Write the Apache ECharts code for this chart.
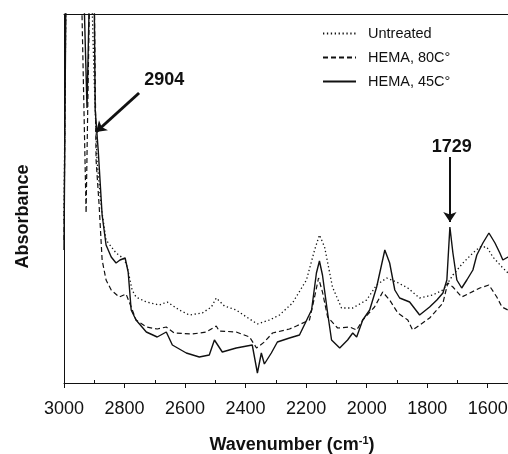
<!DOCTYPE html>
<html>
<head>
<meta charset="utf-8">
<script src="https://cdn.jsdelivr.net/npm/echarts@6/dist/echarts.min.js"></script>
<style>
  html, body { margin: 0; padding: 0; background: #fff; }
  #chart { width: 508px; height: 454px; }
</style>
</head>
<body>
<div id="chart"></div>
<script>
// wavenumbers (cm-1) and absorbance (arbitrary units, 0 = bottom of frame)
// values above the frame top (369) are clipped off like the original
var wnUntreated = [3000, 2993, 2911, 2901, 2891, 2877, 2861, 2828, 2801, 2791, 2775, 2762, 2728, 2685, 2659, 2619, 2586, 2543, 2513, 2497, 2470, 2431, 2397, 2361, 2321, 2288, 2245, 2199, 2172, 2156, 2139, 2113, 2083, 2046, 2000, 1967, 1934, 1901, 1864, 1825, 1782, 1748, 1732, 1715, 1682, 1649, 1626, 1603, 1583, 1553, 1533, 1520];
var absUntreated = [163, 420, 420, 310, 223, 176, 143, 130, 124, 116, 93, 86, 81, 78, 81, 73, 68, 70, 76, 85, 77, 73, 66, 59, 63, 68, 80, 103, 133, 148, 136, 96, 75, 75, 83, 98, 105, 101, 95, 85, 88, 93, 100, 108, 120, 130, 136, 136, 126, 116, 110, 106];

var wnHema80 = [3000, 2993, 2944, 2927, 2914, 2901, 2894, 2884, 2874, 2861, 2844, 2818, 2795, 2778, 2762, 2728, 2692, 2662, 2636, 2576, 2530, 2497, 2487, 2431, 2387, 2364, 2338, 2311, 2255, 2232, 2189, 2172, 2159, 2146, 2129, 2096, 2056, 2033, 2013, 1974, 1947, 1924, 1897, 1864, 1848, 1792, 1748, 1732, 1715, 1686, 1659, 1626, 1596, 1570, 1553, 1533, 1520];
var absHema80 = [143, 420, 420, 170, 420, 420, 223, 178, 123, 103, 93, 86, 89, 76, 63, 56, 54, 56, 50, 49, 51, 57, 52, 51, 46, 35, 41, 50, 54, 57, 63, 86, 105, 91, 66, 55, 56, 53, 63, 76, 91, 83, 70, 63, 53, 65, 80, 100, 96, 86, 90, 95, 98, 86, 76, 73, 70];

var wnHema45 = [3000, 2993, 2937, 2924, 2914, 2901, 2897, 2887, 2874, 2861, 2844, 2828, 2815, 2798, 2788, 2778, 2762, 2728, 2692, 2662, 2642, 2596, 2553, 2520, 2503, 2477, 2431, 2378, 2361, 2348, 2338, 2315, 2295, 2255, 2222, 2182, 2166, 2156, 2146, 2129, 2116, 2089, 2063, 2046, 2033, 2013, 1990, 1967, 1940, 1924, 1907, 1891, 1858, 1825, 1792, 1768, 1748, 1735, 1725, 1715, 1702, 1686, 1669, 1649, 1636, 1616, 1596, 1576, 1560, 1550, 1533, 1520];
var absHema45 = [133, 420, 420, 275, 420, 420, 273, 233, 168, 138, 126, 120, 123, 125, 111, 73, 63, 51, 46, 51, 38, 30, 26, 28, 43, 31, 35, 38, 10, 30, 19, 30, 41, 45, 48, 73, 110, 122, 108, 70, 43, 35, 43, 50, 46, 63, 73, 96, 133, 120, 93, 85, 81, 68, 76, 83, 90, 103, 156, 130, 103, 95, 103, 113, 128, 140, 150, 140, 130, 123, 126, 122];

var xTicks = [3000, 2800, 2600, 2400, 2200, 2000, 1800, 1600];
var xMinorTicks = [2900, 2700, 2500, 2300, 2100, 1900, 1700];
var seriesNames = ['Untreated', 'HEMA, 80C°', 'HEMA, 45C°'];

// annotation arrows: [tailWn, tailAbs, headWn, headAbs] and label spots
var arrow2904 = [2752, 290, 2894, 251];
var arrow1729 = [1725, 226, 1725, 161];
var label2904 = [2669, 303];
var label1729 = [1719, 236];

function pairs(xs, ys) {
  return xs.map(function (x, i) { return [x, ys[i]]; });
}

var font = '"Liberation Sans", Arial, Helvetica, sans-serif';
var ink = '#111';
var xMin = 1533, xMax = 3000;

var myChart = echarts.init(document.getElementById('chart'), null, { renderer: 'canvas' });
myChart.setOption({
  animation: false,
  backgroundColor: '#fff',
  textStyle: { fontFamily: font, color: ink },
  grid: { left: 64, top: 14, bottom: 71, right: 0, containLabel: false, outerBoundsMode: 'none' },
  legend: {
    orient: 'vertical',
    left: 317, top: 21,
    itemWidth: 33, itemHeight: 14, itemGap: 9,
    itemStyle: { opacity: 0 },
    textStyle: { fontSize: 14.5, color: ink, fontFamily: font, padding: [0, 0, 0, 7] },
    data: seriesNames
  },
  xAxis: [{
    type: 'value',
    min: xMin, max: xMax,
    inverse: true,
    axisLine: { lineStyle: { color: ink, width: 1 } },
    axisTick: { length: 5, lineStyle: { color: ink }, customValues: xTicks },
    splitLine: { show: false },
    axisLabel: {
      fontSize: 18, color: ink, margin: 17, customValues: xTicks,
      formatter: function (v) { return String(v); }
    },
    name: 'Wavenumber (cm{sup|-1})',
    nameLocation: 'middle',
    nameGap: 52,
    nameTextStyle: {
      fontSize: 18, fontWeight: 'bold', color: ink, padding: [0, 0, 0, 12],
      rich: { sup: { fontSize: 11, fontWeight: 'bold', color: ink, padding: [0, 0, 9, 0] } }
    }
  }, {
    // small inner ticks at the odd hundreds
    type: 'value',
    position: 'bottom',
    min: xMin, max: xMax,
    inverse: true,
    axisLine: { show: false },
    axisTick: { inside: true, length: 3, lineStyle: { color: ink }, customValues: xMinorTicks },
    axisLabel: { show: false },
    splitLine: { show: false }
  }, {
    // top frame line
    type: 'value',
    position: 'top',
    min: xMin, max: xMax,
    inverse: true,
    axisLine: { show: true, lineStyle: { color: ink, width: 1 } },
    axisTick: { show: false },
    axisLabel: { show: false },
    splitLine: { show: false }
  }],
  yAxis: {
    type: 'value',
    min: 0, max: 369,
    axisLine: { show: true, lineStyle: { color: ink, width: 1 } },
    axisTick: { show: false },
    axisLabel: { show: false },
    splitLine: { show: false },
    name: 'Absorbance',
    nameLocation: 'middle',
    nameRotate: 90,
    nameGap: 32,
    nameTextStyle: { fontSize: 18, fontWeight: 'bold', color: ink, padding: [0, 36, 0, 0] }
  },
  series: [{
    name: seriesNames[0],
    type: 'line',
    data: pairs(wnUntreated, absUntreated),
    symbol: 'none',
    lineStyle: { color: ink, width: 1.3, type: [1.3, 2.6] },
    itemStyle: { color: ink }
  }, {
    name: seriesNames[1],
    type: 'line',
    data: pairs(wnHema80, absHema80),
    symbol: 'none',
    lineStyle: { color: ink, width: 1.2, type: [5, 3] },
    itemStyle: { color: ink }
  }, {
    name: seriesNames[2],
    type: 'line',
    data: pairs(wnHema45, absHema45),
    symbol: 'none',
    lineStyle: { color: ink, width: 1.4, type: 'solid' },
    itemStyle: { color: ink },
    markLine: {
      silent: true,
      symbol: ['none', 'arrow'],
      symbolSize: 10,
      label: { show: false },
      data: [
        [{ coord: [arrow2904[0], arrow2904[1]], lineStyle: { width: 3, color: ink, type: 'solid' } },
         { coord: [arrow2904[2], arrow2904[3]] }],
        [{ coord: [arrow1729[0], arrow1729[1]], lineStyle: { width: 2, color: ink, type: 'solid' } },
         { coord: [arrow1729[2], arrow1729[3]] }]
      ]
    },
    markPoint: {
      silent: true,
      symbol: 'circle',
      symbolSize: 0,
      label: { show: true, fontSize: 18, fontWeight: 'bold', color: ink, fontFamily: font },
      data: [
        { coord: label2904, value: '2904', label: { formatter: '2904' } },
        { coord: label1729, value: '1729', label: { formatter: '1729' } }
      ]
    }
  }]
});
</script>
</body>
</html>
